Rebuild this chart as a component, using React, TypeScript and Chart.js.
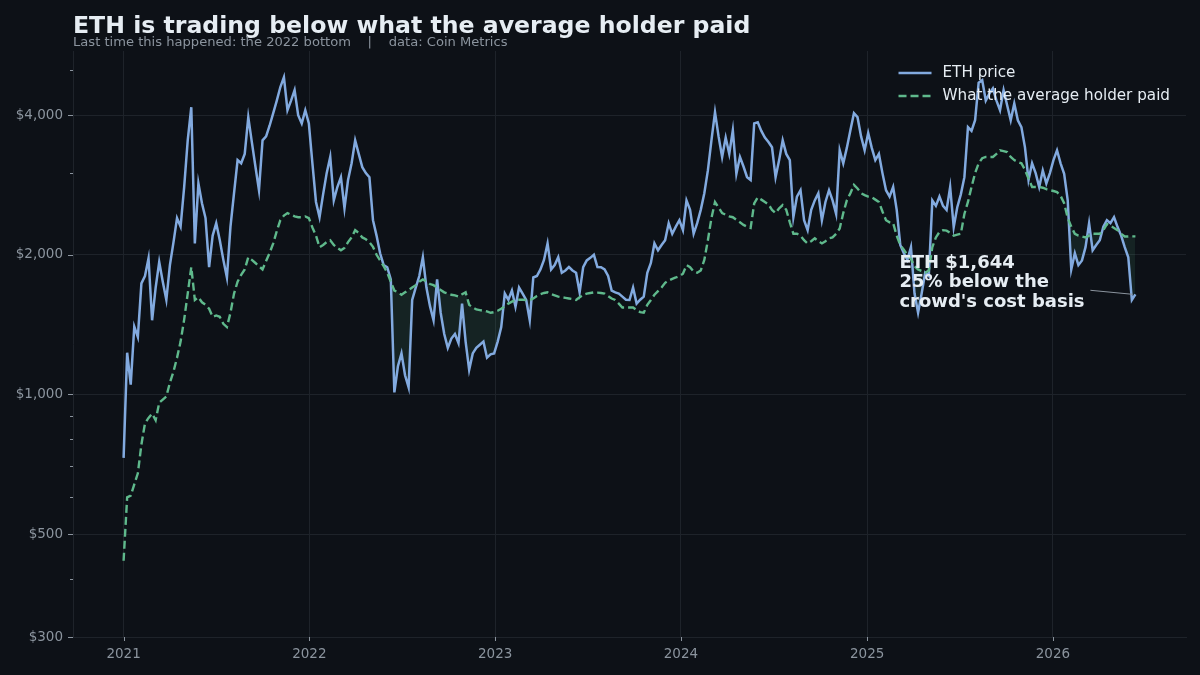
import React, { useEffect, useRef } from "react";
import { Chart, registerables } from "chart.js";

Chart.register(...registerables);

// ---------- data (weekly closes from 2021-01-01) ----------
const START_DATE = Date.UTC(2021, 0, 1);
const DAY_MS = 86400000;
const STEP_DAYS = 7;

const PRICE_LABEL = "ETH price";
const COST_LABEL = "What the average holder paid";

const YEAR_TICKS = [2021, 2022, 2023, 2024, 2025, 2026];
const Y_MAJOR = [300, 500, 1000, 2000, 4000];
const Y_MINOR = [400, 600, 700, 800, 900, 3000, 5000];

const ethPrice = [
  730, 1230, 1050, 1400, 1330, 1735, 1800, 1965, 1445, 1700,
  1930, 1750, 1600, 1900, 2127, 2400, 2300, 2800, 3530, 4160,
  2116, 2851, 2583, 2400, 1882, 2200, 2340, 2150, 1950, 1787,
  2300, 2715, 3200, 3150, 3300, 3960, 3500, 3100, 2756, 3530,
  3600, 3800, 4040, 4300, 4600, 4830, 4100, 4300, 4530, 4000,
  3840, 4100, 3840, 3150, 2600, 2410, 2700, 3000, 3250, 2620,
  2800, 2940, 2520, 2900, 3150, 3530, 3300, 3090, 3000, 2940,
  2375, 2200, 2015, 1900, 1880, 1770, 1010, 1150, 1226, 1100,
  1036, 1598, 1700, 1800, 1976, 1700, 1550, 1445, 1770, 1500,
  1350, 1260, 1320, 1350, 1290, 1570, 1300, 1130, 1226, 1260,
  1280, 1300, 1200, 1220, 1226, 1300, 1397, 1650, 1600, 1675,
  1545, 1700, 1650, 1598, 1445, 1787, 1800, 1860, 1950, 2116,
  1860, 1900, 1976, 1830, 1850, 1882, 1850, 1830, 1660, 1882,
  1945, 1970, 2000, 1882, 1880, 1860, 1800, 1675, 1660, 1650,
  1625, 1600, 1598, 1700, 1570, 1600, 1625, 1830, 1920, 2116,
  2045, 2100, 2150, 2340, 2220, 2300, 2375, 2260, 2620, 2500,
  2220, 2340, 2500, 2715, 3040, 3530, 4060, 3600, 3250, 3580,
  3300, 3710, 2990, 3250, 3100, 2940, 2900, 3840, 3860, 3700,
  3580, 3500, 3410, 2940, 3200, 3530, 3300, 3200, 2410, 2670,
  2756, 2375, 2260, 2500, 2620, 2715, 2375, 2600, 2756, 2620,
  2450, 3360, 3150, 3400, 3710, 4040, 3960, 3600, 3360, 3660,
  3400, 3200, 3300, 3000, 2756, 2670, 2800, 2500, 2100, 2015,
  1950, 2077, 1650, 1500, 1650, 1830, 1800, 2620, 2550, 2670,
  2550, 2500, 2800, 2295, 2532, 2700, 2940, 3770, 3700, 3900,
  4700, 4760, 4300, 4450, 4570, 4300, 4100, 4530, 4200, 3900,
  4240, 3900, 3770, 3410, 2900, 3150, 3000, 2800, 3040, 2850,
  3000, 3200, 3360, 3150, 2990, 2620, 1860, 2015, 1900, 1945,
  2077, 2340, 2045, 2100, 2150, 2300, 2375, 2340, 2410, 2295,
  2200, 2077, 1976, 1598, 1644,
];

const holderCost = [
  438, 600, 605, 640, 676, 780, 866, 890, 909, 880,
  960, 975, 990, 1060, 1120, 1200, 1300, 1450, 1650, 1882,
  1598, 1620, 1580, 1560, 1530, 1470, 1480, 1470, 1420, 1397,
  1500, 1650, 1750, 1810, 1860, 1976, 1950, 1920, 1890, 1860,
  1940, 2020, 2116, 2250, 2375, 2430, 2460, 2440, 2420, 2410,
  2410, 2420, 2400, 2290, 2200, 2077, 2100, 2130, 2150, 2100,
  2070, 2045, 2070, 2130, 2180, 2260, 2230, 2180, 2160, 2130,
  2080, 2000, 1945, 1890, 1830, 1750, 1675, 1660, 1640, 1660,
  1680, 1700, 1720, 1750, 1770, 1750, 1730, 1720, 1700, 1680,
  1660, 1650, 1640, 1635, 1625, 1645, 1660, 1560, 1540, 1525,
  1520, 1515, 1510, 1500, 1505, 1515, 1530, 1550, 1570, 1585,
  1598, 1600, 1600, 1598, 1598, 1610, 1630, 1645, 1655, 1660,
  1645, 1635, 1625, 1620, 1615, 1610, 1605, 1598, 1620, 1640,
  1650, 1655, 1660, 1658, 1655, 1650, 1630, 1610, 1598, 1570,
  1540, 1540, 1540, 1540, 1520, 1505, 1500, 1560, 1598, 1640,
  1670, 1700, 1740, 1760, 1775, 1787, 1800, 1820, 1900, 1880,
  1840, 1830, 1850, 1950, 2150, 2400, 2600, 2530, 2460, 2440,
  2420, 2410, 2380, 2350, 2320, 2300, 2285, 2580, 2660, 2630,
  2600, 2570, 2500, 2460, 2520, 2560, 2500, 2350, 2220, 2220,
  2200, 2150, 2116, 2140, 2170, 2140, 2116, 2140, 2170, 2180,
  2220, 2280, 2460, 2620, 2715, 2830, 2780, 2715, 2690, 2670,
  2660, 2630, 2600, 2480, 2375, 2350, 2340, 2200, 2100, 2050,
  2000, 1960, 1890, 1860, 1845, 1830, 1850, 2077, 2180, 2240,
  2260, 2255, 2230, 2200, 2210, 2220, 2450, 2600, 2800, 3000,
  3150, 3230, 3250, 3250, 3250, 3300, 3360, 3345, 3330, 3250,
  3200, 3170, 3150, 3050, 2920, 2800, 2800, 2800, 2790, 2770,
  2756, 2745, 2730, 2680, 2583, 2400, 2300, 2220, 2200, 2190,
  2180, 2200, 2220, 2220, 2220, 2260, 2330, 2310, 2285, 2260,
  2220, 2190, 2190, 2192, 2192,
];

const TITLE = "ETH is trading below what the average holder paid";
const SUBTITLE = "Last time this happened: the 2022 bottom    |    data: Coin Metrics";

// ---------- styles ----------
const BG = "#0d1117";
const BLUE = "#82aadf";
const GREEN = "#5fb98c";
const FILL = "rgba(95, 185, 140, 0.11)";
const GRID = "#1e232a";
const TICK = "#8b949e";
const TEXT = "#e6edf3";
const FONT = "'DejaVu Sans', sans-serif";

const fmtUsd = (v: number) => "$" + Math.round(v).toLocaleString("en-US");

const decor = {
  id: "decor",
  beforeDraw(chart: any) {
    const { ctx, width, height } = chart;
    ctx.save();
    ctx.fillStyle = BG;
    ctx.fillRect(0, 0, width, height);
    ctx.restore();
  },
  afterDraw(chart: any) {
    const { ctx, chartArea, scales } = chart;
    const xs = scales.x;
    const ys = scales.y;
    ctx.save();

    // tick marks
    ctx.strokeStyle = TICK;
    ctx.lineWidth = 1;
    [...Y_MAJOR, ...Y_MINOR].forEach((v) => {
      const py = Math.round(ys.getPixelForValue(v)) + 0.5;
      const len = Y_MAJOR.includes(v) ? 5 : 3;
      ctx.beginPath();
      ctx.moveTo(chartArea.left - len, py);
      ctx.lineTo(chartArea.left, py);
      ctx.stroke();
    });
    YEAR_TICKS.forEach((y) => {
      const px = Math.round(xs.getPixelForValue((Date.UTC(y, 0, 1) - START_DATE) / DAY_MS)) + 0.5;
      ctx.beginPath();
      ctx.moveTo(px, chartArea.bottom);
      ctx.lineTo(px, chartArea.bottom + 4);
      ctx.stroke();
    });

    // title + subtitle
    ctx.textAlign = "left";
    ctx.textBaseline = "alphabetic";
    ctx.fillStyle = TEXT;
    ctx.font = `bold 23.6px ${FONT}`;
    ctx.fillText(TITLE, chartArea.left, 33);
    ctx.fillStyle = TICK;
    ctx.font = `13.1px ${FONT}`;
    ctx.fillText(SUBTITLE, chartArea.left, 46);

    // legend (inside plot, top right)
    const ds = chart.data.datasets;
    const items = [ds[1], ds[0]];
    ctx.font = `15.2px ${FONT}`;
    const maxW = Math.max(...items.map((d: any) => ctx.measureText(d.label).width));
    const textX = chartArea.right - 16 - maxW;
    const lineX1 = textX - 11;
    const lineX0 = lineX1 - 33;
    items.forEach((d: any, i: number) => {
      const yy = chartArea.top + 22 + i * 23;
      ctx.strokeStyle = d.borderColor;
      ctx.lineWidth = 2.4;
      ctx.setLineDash(d.borderDash || []);
      ctx.beginPath();
      ctx.moveTo(lineX0, yy);
      ctx.lineTo(lineX1, yy);
      ctx.stroke();
      ctx.setLineDash([]);
      ctx.fillStyle = TEXT;
      ctx.textBaseline = "middle";
      ctx.fillText(d.label, textX, yy);
    });

    // annotation at the last point
    const n = ethPrice.length - 1;
    const lastX = n * STEP_DAYS;
    const last = ethPrice[n];
    const cost = holderCost[n];
    const ex = xs.getPixelForValue(lastX);
    const ey = ys.getPixelForValue(last);
    ctx.strokeStyle = TICK;
    ctx.lineWidth = 1;
    ctx.beginPath();
    ctx.moveTo(ex - 45, ey - 4);
    ctx.lineTo(ex - 3, ey);
    ctx.stroke();
    const pct = Math.round((1 - last / cost) * 100);
    const lines = [`ETH ${fmtUsd(last)}`, `${pct}% below the`, "crowd's cost basis"];
    ctx.fillStyle = TEXT;
    ctx.font = `bold 18px ${FONT}`;
    ctx.textBaseline = "middle";
    lines.forEach((t, i) => ctx.fillText(t, ex - 236, ey - 31 + i * 19.5));

    ctx.restore();
  },
};

export default function App() {
  const ref = useRef<HTMLCanvasElement>(null);
  useEffect(() => {
    document.body.style.margin = "0";
    document.body.style.background = BG;
    const days = ethPrice.map((_, i) => i * STEP_DAYS);
    const span = days[days.length - 1] - days[0];
    const xMin = days[0] - 0.05 * span;
    const xMax = days[days.length - 1] + 0.05 * span;

    const chart = new Chart(ref.current as HTMLCanvasElement, {
      type: "line",
      data: {
        datasets: [
          {
            label: COST_LABEL,
            data: days.map((d, i) => ({ x: d, y: holderCost[i] })),
            borderColor: GREEN,
            borderWidth: 2.4,
            borderDash: [8, 4],
            pointRadius: 0,
            tension: 0,
            fill: false,
          },
          {
            label: PRICE_LABEL,
            data: days.map((d, i) => ({ x: d, y: ethPrice[i] })),
            borderColor: BLUE,
            borderWidth: 2.5,
            pointRadius: 0,
            tension: 0,
            fill: { target: 0, above: "rgba(0,0,0,0)", below: FILL },
          },
        ],
      } as any,
      options: {
        animation: false,
        responsive: false,
        maintainAspectRatio: false,
        layout: { padding: { top: 51, right: 14, left: 0, bottom: 0 } },
        plugins: {
          legend: { display: false },
          tooltip: { enabled: false },
          title: { display: false },
        },
        scales: {
          x: {
            type: "linear",
            min: xMin,
            max: xMax,
            afterBuildTicks: (s: any) => {
              s.ticks = YEAR_TICKS.map((y) => ({ value: (Date.UTC(y, 0, 1) - START_DATE) / DAY_MS }));
            },
            afterFit: (s: any) => {
              s.height = 38;
            },
            grid: { color: GRID, drawTicks: false, lineWidth: 1 },
            border: { display: true, color: GRID },
            ticks: {
              color: TICK,
              font: { family: FONT, size: 13.5 },
              padding: 9,
              autoSkip: false,
              maxRotation: 0,
              callback: (v: any) => String(new Date(START_DATE + Number(v) * DAY_MS).getUTCFullYear()),
            },
          },
          y: {
            type: "logarithmic",
            min: 300,
            max: 5500,
            afterBuildTicks: (s: any) => {
              s.ticks = [...Y_MAJOR, ...Y_MINOR].sort((a, b) => a - b).map((v) => ({ value: v }));
            },
            afterFit: (s: any) => {
              s.width = 73;
            },
            grid: {
              color: (c: any) => (c.tick && Y_MAJOR.includes(c.tick.value) ? GRID : "rgba(0,0,0,0)"),
              drawTicks: false,
              lineWidth: 1,
            },
            border: { display: true, color: GRID },
            ticks: {
              color: TICK,
              font: { family: FONT, size: 13.5 },
              padding: 10,
              autoSkip: false,
              callback: (v: any) => (Y_MAJOR.includes(Number(v)) ? fmtUsd(Number(v)) : ""),
            },
          },
        },
      } as any,
      plugins: [decor],
    });
    return () => chart.destroy();
  }, []);

  return (
    <div style={{ width: 1200, height: 675, background: BG }}>
      <canvas ref={ref} width={1200} height={675} style={{ display: "block", width: 1200, height: 675 }} />
    </div>
  );
}
